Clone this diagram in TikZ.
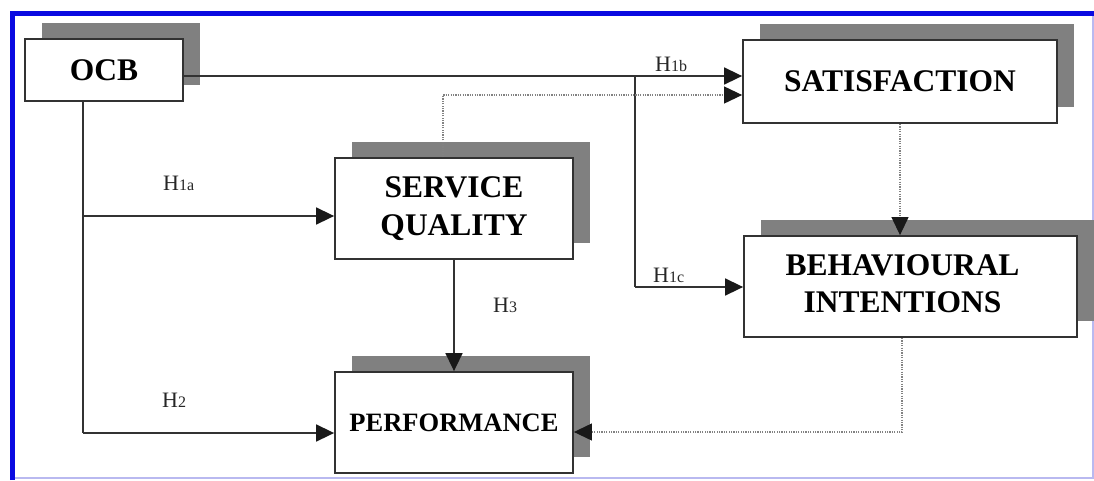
\documentclass[tikz,border=0pt]{standalone}
\usepackage{fontspec}
\setmainfont{Liberation Serif}
\usetikzlibrary{arrows.meta,shadows}
\definecolor{shadowgray}{RGB}{128,128,128}
\definecolor{frameblue}{RGB}{10,10,225}
\definecolor{framelight}{RGB}{185,185,240}
\definecolor{linegray}{RGB}{50,50,50}
\definecolor{dotgray}{RGB}{130,130,130}
\newcommand\hlab[1]{{\fontsize{16}{16}\selectfont #1}}
\begin{document}
\begin{tikzpicture}[x=1pt,y=-1pt,
  box/.style={draw=linegray, line width=1.8pt, fill=white, inner sep=0pt, align=center,
    font=\fontsize{31.5}{37.5}\selectfont\bfseries,
    drop shadow={shadow xshift=16.5pt, shadow yshift=16.5pt, opacity=1, fill=shadowgray}},
  arr/.style={draw=linegray, line width=1.6pt, -{Triangle[length=18pt,width=17pt,color=black!90]}},
  plain/.style={draw=linegray, line width=1.6pt},
  dotarr/.style={draw=dotgray, line width=1.1pt, dash pattern=on 1.2pt off 1.2pt,
    -{Triangle[length=18pt,width=17pt,color=black!90]}},
  hyp/.style={anchor=base west, inner sep=0pt, font=\fontsize{22}{22}\selectfont, text=black!85}
]
\useasboundingbox (0,0) rectangle (1094,480);
\fill[white] (0,0) rectangle (1094,480);
\draw[framelight, line width=2pt] (12,478) -- (1093,478) -- (1093,13);
\draw[frameblue, line width=5pt] (12.5,480) -- (12.5,13.5) -- (1094,13.5);

% boxes
\node[box, minimum width=158, minimum height=62] (ocb) at (104,70) {OCB};
\node[box, minimum width=314, minimum height=83] (sat) at (900,81.5) {SATISFACTION};
\node[box, minimum width=238, minimum height=101] (sq) at (454,208.5) {SERVICE\\QUALITY};
\node[box, minimum width=238, minimum height=101, font=\fontsize{26.5}{30}\selectfont\bfseries] (perf) at (454,422.5) {PERFORMANCE};
\node[box, minimum width=333, minimum height=101] (bi) at (910.5,286.5)
  {\begin{tabular}{@{}c@{}}BEHAVIOURAL\\INTENTIONS\end{tabular}\hspace*{16pt}};

% junction points
\coordinate (j1) at (635,76);
\coordinate (j1c) at (635,287);
\coordinate (ocbdown) at (83,433);
\coordinate (ja) at (83,216);
\coordinate (jd) at (443,95);
\coordinate (je) at (902,432);

% solid connectors
\draw[arr] (ocb.east |- j1) -- (sat.west |- j1);
\draw[plain] (j1) -- (j1c);
\draw[arr] (j1c) -- (bi.west |- j1c);
\draw[plain] (ocb.south -| ocbdown) -- (ocbdown);
\draw[arr] (ocbdown) -- (perf.west |- ocbdown);
\draw[arr] (ja) -- (sq.west |- ja);
\draw[arr] (sq.south) -- (perf.north);

% dotted connectors
\draw[dotarr] (sq.north -| jd) -- (jd) -- (sat.west |- jd);
\draw[dotarr] (sat.south) -- (sat.south |- bi.north);
\draw[dotarr] (bi.south -| je) -- (je) -- (perf.east |- je);

% labels
\node[hyp] (h1a) at (163,190) {H\hlab{1a}};
\node[hyp] (h2) at (162,407) {H\hlab{2}};
\node[hyp] (h1b) at (655,71) {H\hlab{1b}};
\node[hyp] (h1c) at (653,282) {H\hlab{1c}};
\node[hyp] (h3) at (493,312) {H\hlab{3}};
\end{tikzpicture}
\end{document}
